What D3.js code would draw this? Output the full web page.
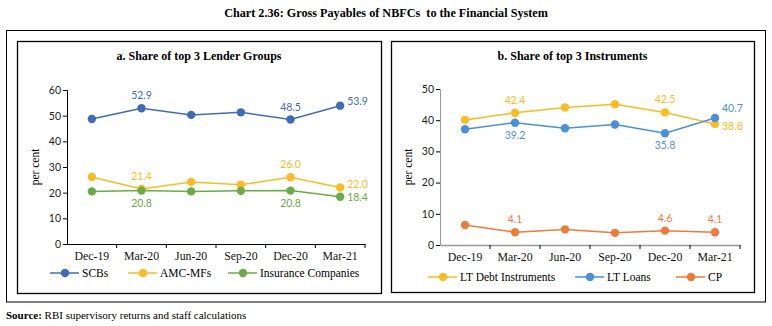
<!DOCTYPE html>
<html>
<head>
<meta charset="utf-8">
<script src="https://cdn.jsdelivr.net/npm/d3@7"></script>
<style>
  body { margin: 0; background: #fff; }
  svg { display: block; }
</style>
</head>
<body>
<svg id="chart" width="772" height="326"></svg>
<script>
// data
var quarters = ["Dec-19", "Mar-20", "Jun-20", "Sep-20", "Dec-20", "Mar-21"];

var scbs = [48.7, 52.9, 50.3, 51.3, 48.5, 53.9];
var amcMfs = [26.1, 21.4, 24.2, 23.1, 26.0, 22.0];
var insurance = [20.5, 20.8, 20.5, 20.7, 20.8, 18.4];

var ltDebt = [40.1, 42.4, 44.1, 45.1, 42.5, 38.8];
var ltLoans = [37.1, 39.2, 37.4, 38.6, 35.8, 40.7];
var cp = [6.4, 4.1, 5.0, 3.9, 4.6, 4.1];

var ticksA = [0, 10, 20, 30, 40, 50, 60];
var ticksB = [0, 10, 20, 30, 40, 50];

var serif = "'Liberation Serif', 'DejaVu Serif', serif";
var sans = "Lato, 'Liberation Sans', sans-serif";

var svg = d3.select("#chart");

svg.append("text")
	.attr("x", 386).attr("y", 17)
	.attr("text-anchor", "middle")
	.style("white-space", "pre")
	.style("font-family", serif).style("font-weight", "bold").style("font-size", "12.2px")
	.text("Chart 2.36: Gross Payables of NBFCs  to the Financial System");

// outer frame
svg.append("rect")
	.attr("x", 6.5).attr("y", 30.5).attr("width", 759).attr("height", 271.5)
	.attr("fill", "none").attr("stroke", "#000").attr("stroke-width", 1);

svg.append("text")
	.attr("x", 6).attr("y", 319)
	.style("font-family", serif).style("font-size", "11px")
	.call(t => {
		t.append("tspan").style("font-weight", "bold").text("Source: ");
		t.append("tspan").text("RBI supervisory returns and staff calculations");
	});

function drawPanel(p) {
	svg.append("rect")
		.attr("x", p.box[0] + 0.5).attr("y", p.box[1] + 0.5)
		.attr("width", p.box[2]).attr("height", p.box[3])
		.attr("fill", "none").attr("stroke", "#000").attr("stroke-width", 1.3);

	svg.append("text")
		.attr("x", p.box[0] + p.box[2] / 2).attr("y", 60)
		.attr("text-anchor", "middle")
		.style("font-family", serif).style("font-weight", "bold").style("font-size", "12px")
		.text(p.title);

	var x = d3.scaleBand().domain(quarters).range([p.x0, p.x1]);
	var y = d3.scaleLinear().domain([0, p.ymax]).range([p.y0, p.y1]);

	var g = svg.append("g");

	// y axis
	var ya = g.append("g")
		.attr("transform", "translate(" + p.x0 + ",0)")
		.call(d3.axisLeft(y).tickValues(p.ticks).tickSize(4).tickPadding(2));
	ya.select(".domain").attr("stroke", p.axisColor);
	ya.selectAll("text").style("font-family", sans).style("font-size", "10.5px").attr("fill", "#222");

	// x axis
	var xa = g.append("g")
		.attr("transform", "translate(0," + p.y0 + ")")
		.call(d3.axisBottom(x).tickSize(0).tickPadding(8));
	xa.select(".domain").attr("stroke", p.axisColor).attr("stroke-width", p.axisColor == "#000" ? 1 : 1.5);
	xa.selectAll("text").style("font-family", serif).style("font-size", "11.8px").attr("fill", "#111");
	xa.selectAll(".bnd").data(quarters.slice(1)).join("line")
		.attr("x1", d => x(d)).attr("x2", d => x(d))
		.attr("y1", 0).attr("y2", 4).attr("stroke", "#000");
	xa.append("line").attr("x1", p.x1).attr("x2", p.x1).attr("y1", 0).attr("y2", 4).attr("stroke", "#000");

	var line = d3.line()
		.x((d, i) => x(quarters[i]) + x.bandwidth() / 2)
		.y(d => y(d));

	p.series.forEach(function(s) {
		g.append("path")
			.datum(s.values)
			.attr("d", line)
			.attr("fill", "none").attr("stroke", s.color).attr("stroke-width", 1.5);
		g.selectAll(null).data(s.values).join("circle")
			.attr("cx", (d, i) => x(quarters[i]) + x.bandwidth() / 2)
			.attr("cy", d => y(d))
			.attr("r", 4.2)
			.attr("fill", s.color);
		s.labels.forEach(function(l) {
			var i = l[0], pos = l[1];
			var cx = x(quarters[i]) + x.bandwidth() / 2, cy = y(s.values[i]);
			var t = g.append("text")
				.style("font-family", sans).style("font-size", "10.5px")
				.attr("fill", s.color)
				.text(s.values[i].toFixed(1));
			if (pos == "above") t.attr("x", cx).attr("y", cy - 9).attr("text-anchor", "middle");
			else if (pos == "below") t.attr("x", cx).attr("y", cy + 16).attr("text-anchor", "middle");
			else t.attr("x", cx + 7).attr("y", cy + 1 + (l[2] || 0)).attr("text-anchor", "start");
		});
	});

	svg.append("text")
		.attr("transform", "translate(" + (p.x0 - 28) + "," + ((p.y0 + p.y1) / 2 + 0) + ") rotate(-90)")
		.attr("text-anchor", "middle")
		.style("font-family", serif).style("font-size", "11.5px")
		.text("per cent");

	// legend
	var lg = svg.append("g");
	p.series.forEach(function(s, i) {
		var lx = p.legendX[i];
		lg.append("line")
			.attr("x1", lx).attr("x2", lx + 29).attr("y1", p.legendY).attr("y2", p.legendY)
			.attr("stroke", s.color).attr("stroke-width", 1.5);
		lg.append("circle").attr("cx", lx + 15).attr("cy", p.legendY).attr("r", 4.2).attr("fill", s.color);
		lg.append("text")
			.attr("x", lx + 32).attr("y", p.legendY + 4)
			.style("font-family", serif).style("font-size", "11.5px")
			.text(s.name);
	});
}

drawPanel({
	box: [17, 41, 364, 252],
	title: "a. Share of top 3 Lender Groups",
	x0: 67, x1: 365, y0: 244, y1: 90, ymax: 60, ticks: ticksA,
	axisColor: "#000",
	legendX: [50, 128, 228], legendY: 273,
	series: [
		{ name: "SCBs", color: "#3f6db5", values: scbs, labels: [[1, "above"], [4, "above"], [5, "right", -2]] },
		{ name: "AMC-MFs", color: "#fbbb22", values: amcMfs, labels: [[1, "above"], [4, "above"], [5, "right", -1]] },
		{ name: "Insurance Companies", color: "#6aab47", values: insurance, labels: [[1, "below"], [4, "below"], [5, "right", 3]] }
	]
});

drawPanel({
	box: [391, 41, 363, 251],
	title: "b. Share of top 3 Instruments",
	x0: 440, x1: 740, y0: 245, y1: 89, ymax: 50, ticks: ticksB,
	axisColor: "#999",
	legendX: [428, 575, 676], legendY: 277,
	series: [
		{ name: "LT Debt Instruments", color: "#fbbb22", values: ltDebt, labels: [[1, "above"], [4, "above"], [5, "right", 5]] },
		{ name: "LT Loans", color: "#4a90d6", values: ltLoans, labels: [[1, "below"], [4, "below"], [5, "right", -7]] },
		{ name: "CP", color: "#ef7b3a", values: cp, labels: [[1, "above"], [4, "above"], [5, "above"]] }
	]
});
</script>
</body>
</html>
